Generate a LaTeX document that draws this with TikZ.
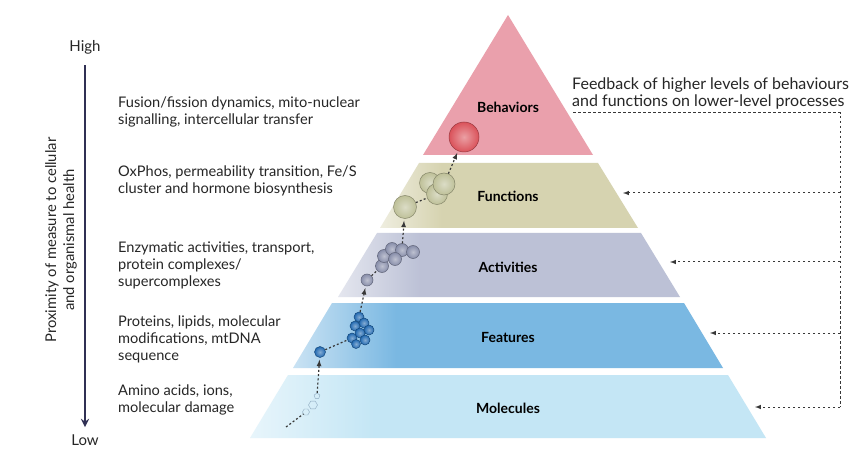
\documentclass[tikz,border=0pt]{standalone}
\usepackage{tikz}
\usepackage{xcolor}
\usepackage{fontspec}
\setmainfont{Lato}
\usetikzlibrary{arrows}
\usetikzlibrary{shapes.geometric}

\definecolor{behav}{RGB}{234,160,172}
\definecolor{func}{RGB}{214,211,176}
\definecolor{activ}{RGB}{188,193,214}
\definecolor{feat}{RGB}{122,184,226}
\definecolor{molec}{RGB}{196,230,245}
\definecolor{axisblue}{RGB}{48,48,84}
\definecolor{dotgray}{RGB}{55,55,55}
\definecolor{redball}{RGB}{218,82,90}
\definecolor{funball}{RGB}{190,192,152}
\definecolor{actball}{RGB}{136,142,170}
\definecolor{featball}{RGB}{32,104,176}
\definecolor{molline}{RGB}{140,168,190}

\colorlet{slab}{func}
\pgfdeclarehorizontalshading[slab]{slabfade}{100bp}{color(0bp)=(white!60!slab); color(25bp)=(white!60!slab); color(37bp)=(slab); color(100bp)=(slab)}

\begin{document}
\begin{tikzpicture}
		[x=1pt,y=-1pt,
		every node/.style={font=\fontsize{14.6}{17}\selectfont,text=black!85},
		side/.style={anchor=west,align=left,inner sep=0pt},
		level/.style={font=\fontsize{14}{16}\bfseries\selectfont,text=black},
		ball/.style 2 args={circle,inner sep=0pt,minimum size=#2,inner color=white!45!#1,outer color=#1,draw=#1!70!black,line width=.5pt},
		trail/.style={dotgray,line width=1.2pt,dash pattern=on 2pt off 2.2pt,shorten >=2pt},
		fb/.style={dotgray,line width=1pt,dash pattern=on 2.5pt off 2.5pt}]
		\useasboundingbox (0,0) rectangle (856,454);
		\fill[white] (0,0) rectangle (856,454);
		\fill[behav] (508,15) -- (593,155) -- (423,155) -- cycle;
		\colorlet{slab}{func}
		\shade[shading=slabfade] (419,163) -- (598,163) -- (638,228) -- (380,228) -- cycle;
		\colorlet{slab}{activ}
		\shade[shading=slabfade] (377,233) -- (641,233) -- (680,297) -- (338,297) -- cycle;
		\colorlet{slab}{feat}
		\shade[shading=slabfade] (332,303) -- (684,303) -- (723,368) -- (293,368) -- cycle;
		\colorlet{slab}{molec}
		\shade[shading=slabfade] (288,375) -- (728,375) -- (766,438) -- (250,438) -- cycle;
		\node [level] (beh) at (508,107) {Behaviors};
		\node [level] (fun) at (508,196) {Functions};
		\node [level] (act) at (508,267) {Activities};
		\node [level] (fea) at (508,337) {Features};
		\node [level] (mol) at (508,408) {Molecules};
		\node [font=\fontsize{15}{17}\selectfont] (high) at (85,47) {High};
		\node [font=\fontsize{15}{17}\selectfont] (low) at (85,440) {Low};
		\node [rotate=90,align=center,font=\fontsize{14.8}{18}\selectfont] (prox) at (61,240) {Proximity of measure to cellular\\and organismal health};
		\draw [axisblue,line width=2.6pt,-stealth,shorten <=8pt,shorten >=4pt] (high) -- (low);
		\node [side] (t1) at (118,111.5) {Fusion/fission dynamics, mito-nuclear\\signalling, intercellular transfer};
		\node [side] (t2) at (118,181) {OxPhos, permeability transition, Fe/S\\cluster and hormone biosynthesis};
		\node [side] (t3) at (118,265) {Enzymatic activities, transport,\\protein complexes/\\supercomplexes};
		\node [side] (t4) at (118,339) {Proteins, lipids, molecular\\modifications, mtDNA\\sequence};
		\node [side] (t5) at (118,400) {Amino acids, ions,\\molecular damage};
		\node [side,font=\fontsize{16}{17}\selectfont] (fbtext) at (572,93.5) {Feedback of higher levels of behaviours\\and functions on lower-level processes};
		\node [regular polygon,regular polygon sides=6,draw=molline,minimum size=9pt,inner sep=0pt] (m1) at (313,405) {};
		\node [regular polygon,regular polygon sides=6,draw=molline,minimum size=7pt,inner sep=0pt] (m2) at (306,412) {};
		\node [regular polygon,regular polygon sides=5,draw=molline,minimum size=6pt,inner sep=0pt] (m3) at (317,396) {};
		\node [ball={featball}{11pt}] (fs) at (320,352) {};
		\node [ball={featball}{10pt}] (f1) at (352,338) {};
		\node [ball={featball}{10pt}] (f4) at (355,326) {};
		\node [ball={featball}{10pt}] (f6) at (359,317) {};
		\node [ball={featball}{10pt}] (f5) at (364,323) {};
		\node [ball={featball}{10pt}] (f2) at (360,333) {};
		\node [ball={featball}{10pt}] (f3) at (369,330) {};
		\node [ball={featball}{9pt}] (f8) at (356,344) {};
		\node [ball={featball}{10pt}] (f7) at (365,340) {};
		\node [ball={actball}{12pt}] (as) at (367,280) {};
		\node [ball={actball}{13pt}] (a1) at (382,266) {};
		\node [ball={actball}{13pt}] (a2) at (384,256) {};
		\node [ball={actball}{13pt}] (a4) at (392,249) {};
		\node [ball={actball}{13pt}] (a5) at (402,250) {};
		\node [ball={actball}{13pt}] (a6) at (413,252) {};
		\node [ball={actball}{13pt}] (a3) at (395,259) {};
		\node [ball={funball}{23pt}] (ns) at (405,207) {};
		\node [ball={funball}{21pt}] (n1) at (430,183) {};
		\node [ball={funball}{21pt}] (n3) at (437,194) {};
		\node [ball={funball}{22pt}] (n2) at (444,184) {};
		\node [ball={redball}{30pt}] (rb) at (464,137) {};
		\coordinate (m0) at (286,427);
		\draw [trail,shorten >=0pt] (m0) -- (m2);
		\draw [trail,-latex] (m3) -- (fs);
		\draw [trail,shorten >=0pt] (fs) -- (f1);
		\draw [trail,-latex] (f6) -- (as);
		\draw [trail,shorten >=0pt] (as) -- (a1);
		\draw [trail,-latex] (a5) -- (ns);
		\draw [trail,shorten >=0pt] (ns) -- (n3);
		\draw [trail,-latex] (n2) -- (rb);
		\coordinate (c0) at (573,113);
		\coordinate (c1) at (840,113);
		\coordinate (c2) at (840,407);
		\coordinate (cf) at (840,193);
		\coordinate (ca) at (840,262);
		\coordinate (ce) at (840,333);
		\coordinate (pf) at (623,193);
		\coordinate (pa) at (670,262);
		\coordinate (pe) at (710,333);
		\coordinate (pm) at (755,407);
		\draw [fb] (c0) -- (c1) -- (c2);
		\draw [fb,-latex] (cf) -- (pf);
		\draw [fb,-latex] (ca) -- (pa);
		\draw [fb,-latex] (ce) -- (pe);
		\draw [fb,-latex] (c2) -- (pm);
	\end{tikzpicture}
\end{document}
